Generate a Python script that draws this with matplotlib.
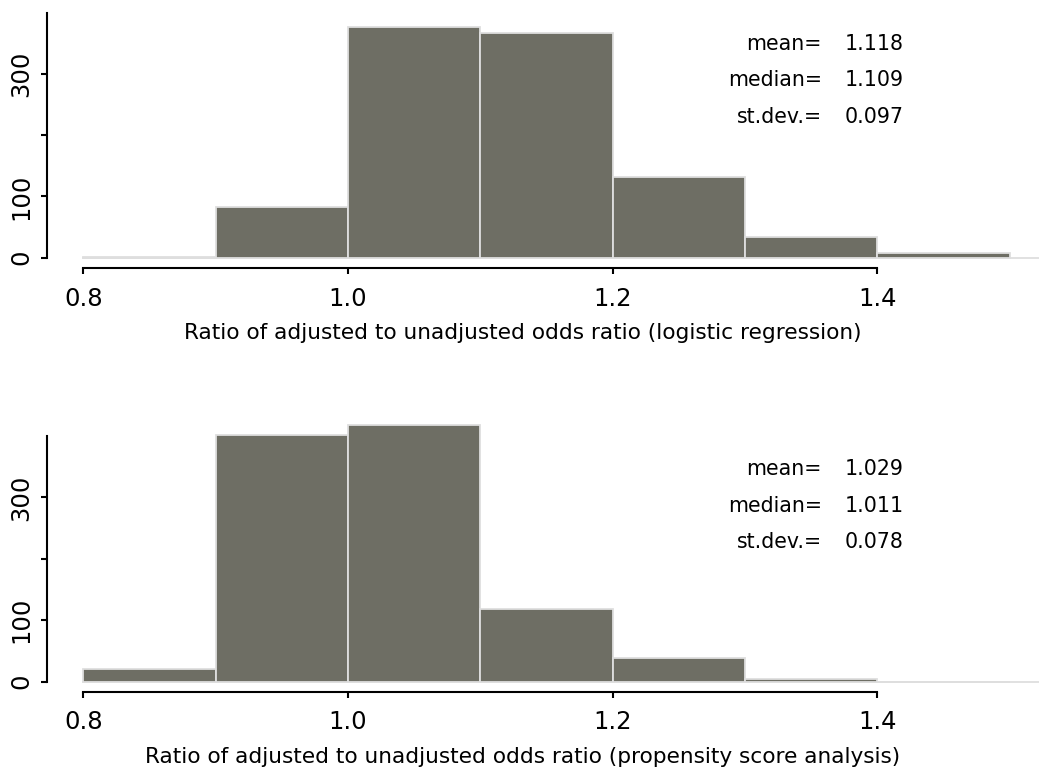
import matplotlib
matplotlib.use("Agg")
import matplotlib.pyplot as plt
import numpy as np

plt.rcParams['font.family'] = ['DejaVu Sans']

bin_edges = [0.8, 0.9, 1.0, 1.1, 1.2, 1.3, 1.4, 1.5]
counts_logistic = [1, 83, 376, 367, 132, 34, 8]
counts_propensity = [21, 402, 418, 119, 38, 4, 0]

stats_labels = ["mean=", "median=", "st.dev.="]
stats_logistic = ["1.118", "1.109", "0.097"]
stats_propensity = ["1.029", "1.011", "0.078"]

xlabels = ["Ratio of adjusted to unadjusted odds ratio (logistic regression)",
           "Ratio of adjusted to unadjusted odds ratio (propensity score analysis)"]
xticks = [0.8, 1.0, 1.2, 1.4]
xticklabels = ["0.8", "1.0", "1.2", "1.4"]
yticks = [0, 100, 200, 300]
yticklabels = ["0", "100", "", "300"]

W, H = 1039, 775
fig = plt.figure(figsize=(W / 100, H / 100), dpi=100)

BAR = "#6E6E64"
EDGE = "#DEDEDE"
FS_LAB = 15.6
FS_STAT = 14.8
FS_TICK = 17.5


def make_panel(top_px, zero_px, bottom_px, counts, stats, xlabel, xlabel_y, stat_y0):
    left_px = 46.7
    ax = fig.add_axes([left_px / W, 1 - bottom_px / H, (W - left_px) / W, (bottom_px - top_px) / H])
    scale = (zero_px - top_px) / 400.0
    ymin = -(bottom_px - zero_px) / scale
    px_per_unit = 1323.5
    x0 = 0.8 - (83.3 - left_px) / px_per_unit
    x1 = 1.4 + (W - 877.4) / px_per_unit
    ax.set_xlim(x0, x1)
    ax.set_ylim(ymin, 400)
    lefts = bin_edges[:-1]
    widths = np.diff(bin_edges)
    ax.bar(lefts, counts, width=widths, align='edge', color=BAR,
           edgecolor=EDGE, linewidth=1.3, clip_on=False, zorder=2)
    ax.plot([0.8, x1], [0, 0], color=EDGE, lw=1.3, zorder=1, clip_on=False)
    for s in ['top', 'right']:
        ax.spines[s].set_visible(False)
    ax.spines['left'].set_bounds(0, 400)
    ax.spines['bottom'].set_bounds(0.8, 1.4)
    for s in ['left', 'bottom']:
        ax.spines[s].set_linewidth(1.5)
    ax.set_xticks(xticks)
    ax.set_xticklabels(xticklabels, fontsize=FS_TICK)
    ax.set_yticks(yticks)
    ax.set_yticklabels(yticklabels, fontsize=FS_TICK, rotation=90, va='center')
    ax.tick_params(axis='both', length=4.5, width=1.5)
    ax.tick_params(axis='x', pad=9)
    ax.tick_params(axis='y', pad=5)
    ax.patch.set_visible(False)
    fig.text(523 / W, 1 - xlabel_y / H, xlabel, ha='center', va='center', fontsize=FS_LAB)
    for i, (lab, val) in enumerate(zip(stats_labels, stats)):
        y = 1 - (stat_y0 + i * 36.5) / H
        fig.text(822 / W, y, lab, ha='right', va='center', fontsize=FS_STAT)
        fig.text(904 / W, y, val, ha='right', va='center', fontsize=FS_STAT)
    return ax


make_panel(12.7, 257.7, 268.0, counts_logistic, stats_logistic, xlabels[0], 333, 44)
make_panel(436.0, 681.7, 691.7, counts_propensity, stats_propensity, xlabels[1], 757, 469)

fig.savefig("out.png", dpi=100)
